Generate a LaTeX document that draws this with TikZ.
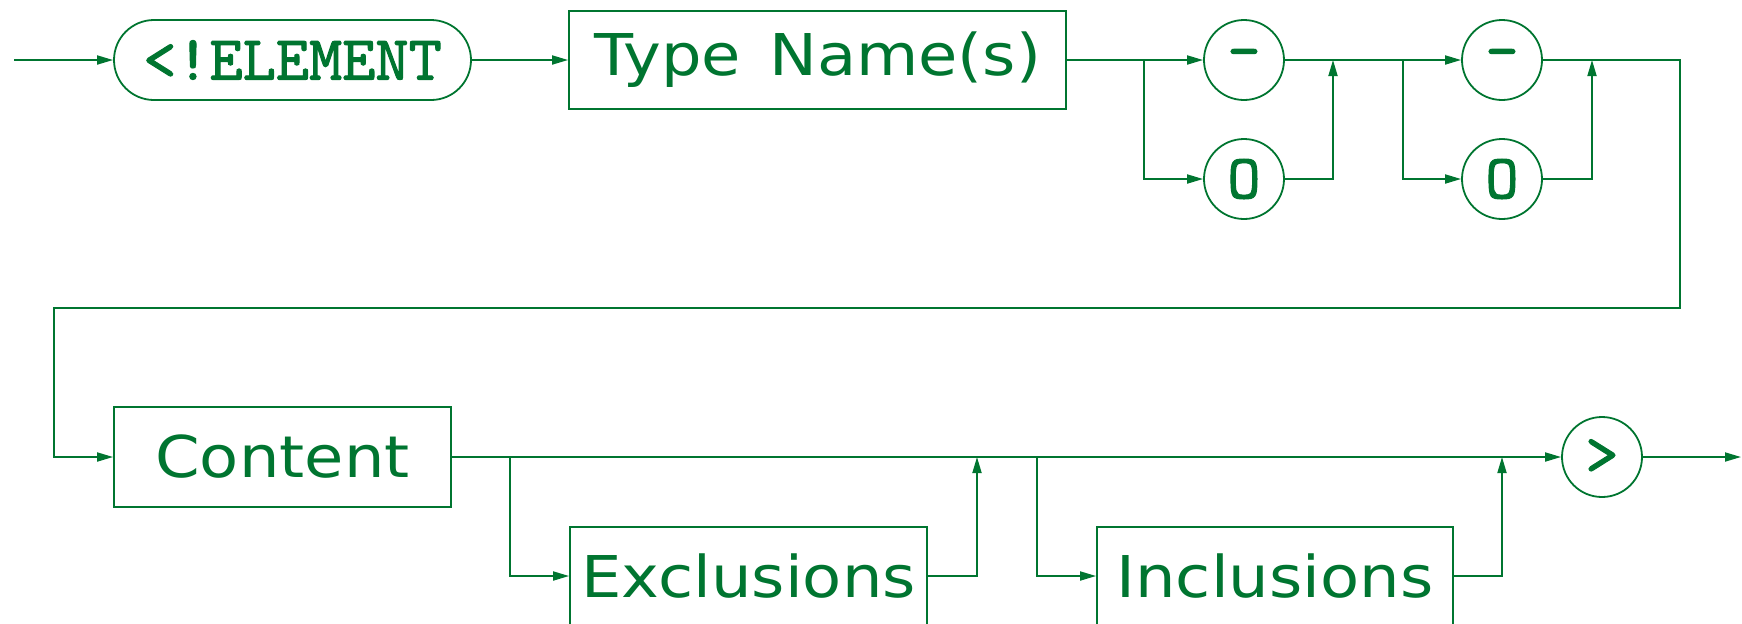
\documentclass[tikz,border=0pt]{standalone}
\usepackage{fontspec}
\newfontfamily\labfont[FakeStretch=1.11]{DejaVu Sans}
\newfontfamily\ttbold[FakeBold=1.6]{lmmono10-regular.otf}
\usetikzlibrary{arrows.meta}
\definecolor{dg}{HTML}{007530}
\begin{document}
\begin{tikzpicture}[x=0.5pt,y=-0.5pt,
  conn/.style={draw=dg, line width=0.9pt},
  arr/.style={conn, -{Triangle[length=8pt,width=4.5pt]}},
  boxnode/.style={draw=dg, line width=0.9pt, rectangle, inner sep=0pt, text=dg,
    font=\labfont\fontsize{28.8}{34}\selectfont},
  termnode/.style={draw=dg, line width=0.9pt, rectangle, rounded corners=20pt, inner sep=0pt, text=dg,
    minimum height=40pt, font=\ttbold\fontsize{31.6}{38}\selectfont},
  circnode/.style={draw=dg, line width=0.9pt, circle, minimum size=40pt, inner sep=0pt, text=dg,
    font=\ttbold\fontsize{31.6}{38}\selectfont}]
\useasboundingbox (0,0) rectangle (1742,623);
\clip (0,0) rectangle (1742,623);
% nodes
\node[termnode, minimum width=178.5pt] (elem) at (292.5,60) {<!ELEMENT};
\node[boxnode, minimum width=248.5pt, minimum height=49pt] (type) at (817.5,60) {Type\hspace{4pt} Name(s)};
\node[circnode] (c1a) at (1244,60) {-};
\node[circnode] (c1b) at (1244,179) {O};
\node[circnode] (c2a) at (1502,60) {-};
\node[circnode] (c2b) at (1502,179) {O};
\node[boxnode, minimum width=168.5pt, minimum height=50pt] (content) at (282.5,457) {Content};
\node[boxnode, minimum width=178.5pt, minimum height=49pt] (excl) at (748.5,576) {Exclusions};
\node[boxnode, minimum width=178pt, minimum height=49pt] (incl) at (1275,576) {Inclusions};
\node[circnode] (gt) at (1602,457) {>};
% junctions
\coordinate (start) at (14,60);
\coordinate (b1) at (1144,60);
\coordinate (m1) at (1333,60);
\coordinate (b2) at (1403,60);
\coordinate (m2) at (1592,60);
\coordinate (r1) at (1680,60);
\coordinate (r2) at (1680,308);
\coordinate (r3) at (54,308);
\coordinate (r4) at (54,457);
\coordinate (b3) at (510,457);
\coordinate (m3) at (977,457);
\coordinate (b4) at (1037,457);
\coordinate (m4) at (1502,457);
\coordinate (stop) at (1741,457);
% connectors
\draw[arr] (start) -- (elem.west);
\draw[arr] (elem.east) -- (type.west);
\draw[arr] (type.east) -- (c1a.west);
\draw[arr] (b1) |- (c1b.west);
\draw[arr] (c1b.east) -| (m1);
\draw[arr] (c1a.east) -- (c2a.west);
\draw[arr] (b2) |- (c2b.west);
\draw[arr] (c2b.east) -| (m2);
\draw[arr] (c2a.east) -- (r1) -- (r2) -- (r3) -- (r4) -- (content.west);
\draw[arr] (content.east) -- (gt.west);
\draw[arr] (b3) |- (excl.west);
\draw[arr] (excl.east) -| (m3);
\draw[arr] (b4) |- (incl.west);
\draw[arr] (incl.east) -| (m4);
\draw[arr] (gt.east) -- (stop);
\end{tikzpicture}
\end{document}
